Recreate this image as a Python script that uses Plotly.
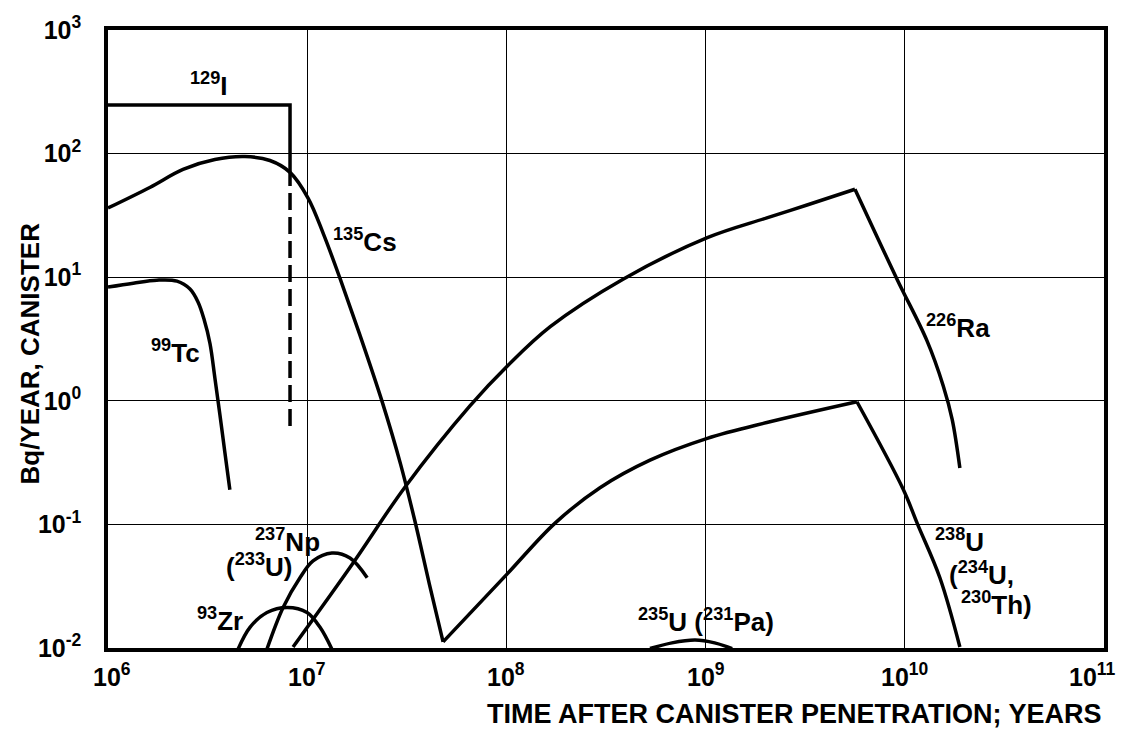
import math
import plotly.graph_objects as go

# ---- release rate curves (time in years, Bq/year per canister) ----
i129_x = [1.0e6, 8.2e6, 8.2e6]
i129_y = [247, 247, 75]
i129_tail_x = [8.2e6, 8.2e6]
i129_tail_y = [75, 0.56]

cs135_x = [1.0e6, 1.63e6, 2.38e6, 3.44e6, 4.87e6, 6.50e6, 8.20e6, 1.01e7, 1.21e7,
           1.46e7, 1.84e7, 2.38e7, 2.94e7, 3.48e7, 4.11e7, 4.81e7]
cs135_y = [36.3, 53.5, 74.5, 89.5, 94.6, 87.9, 70.5, 43.7, 22.1,
           9.82, 3.40, 0.98, 0.309, 0.105, 0.0326, 0.0112]

tc99_x = [1.0e6, 1.34e6, 1.76e6, 2.22e6, 2.58e6, 2.83e6, 3.03e6, 3.25e6, 3.44e6,
          3.65e6, 3.86e6, 4.09e6]
tc99_y = [8.32, 8.95, 9.46, 9.29, 8.02, 6.31, 4.61, 2.91, 1.53, 0.759, 0.384, 0.191]

ra226_up_x = [8.49e6, 1.70e7, 3.10e7, 6.56e7, 1.02e8, 1.66e8, 3.85e8, 1.02e9,
              2.03e9, 3.23e9, 5.62e9]
ra226_up_y = [0.0102, 0.0488, 0.201, 0.91, 1.94, 3.98, 9.64, 20.9, 30.2, 38.4, 51.5]
ra226_down_x = [5.62e9, 9.14e9, 1.29e10, 1.56e10, 1.73e10, 1.89e10]
ra226_down_y = [51.5, 9.64, 3.08, 1.32, 0.705, 0.286]

u238_up_x = [4.81e7, 1.01e8, 1.75e8, 2.95e8, 5.26e8, 1.02e9, 2.03e9, 5.75e9]
u238_up_y = [0.0112, 0.0398, 0.102, 0.198, 0.331, 0.497, 0.667, 0.982]
u238_down_x = [5.75e9, 9.79e9, 1.16e10, 1.50e10, 1.89e10]
u238_down_y = [0.982, 0.194, 0.10, 0.037, 0.0102]

zr93_x = [4.50e6, 5.16e6, 6.28e6, 7.93e6, 9.98e6, 1.16e7, 1.33e7]
zr93_y = [0.0098, 0.0147, 0.0194, 0.0213, 0.0194, 0.0147, 0.0098]

np237_x = [6.28e6, 7.57e6, 9.20e6, 1.07e7, 1.33e7, 1.64e7, 2.00e7]
np237_y = [0.0098, 0.0213, 0.0370, 0.0506, 0.0586, 0.0535, 0.0370]

u235_x = [5.26e8, 6.78e8, 8.86e8, 1.11e9, 1.36e9]
u235_y = [0.0099, 0.0110, 0.0116, 0.0110, 0.0099]

# ---- axis ticks ----
x_ticks = [1e6, 1e7, 1e8, 1e9, 1e10, 1e11]
x_ticktext = ["10<sup>6</sup>", "10<sup>7</sup>", "10<sup>8</sup>",
              "10<sup>9</sup>", "10<sup>10</sup>", "10<sup>11</sup>"]
x_tick_shift = [4, 0, 0, 0, 0, -12]
y_ticks = [1e-2, 1e-1, 1e0, 1e1, 1e2, 1e3]
y_ticktext = ["10<sup>-2</sup>", "10<sup>-1</sup>", "10<sup>0</sup>",
              "10<sup>1</sup>", "10<sup>2</sup>", "10<sup>3</sup>"]

# ---- curve labels: (text, time, rate) ----
labels = [
    ("<sup>129</sup>I", 3.2e6, 363),
    ("<sup>135</sup>Cs", 1.95e7, 19.8),
    ("<sup>99</sup>Tc", 2.17e6, 2.51),
    ("<sup>226</sup>Ra", 1.85e10, 3.98),
    ("<sup>238</sup>U", 1.89e10, 0.0745),
    ("(<sup>234</sup>U,", 2.42e10, 0.0398),
    ("<sup>230</sup>Th)", 2.87e10, 0.0229),
    ("<sup>237</sup>Np", 8.0e6, 0.0745),
    ("(<sup>233</sup>U)", 5.73e6, 0.0461),
    ("<sup>93</sup>Zr", 3.65e6, 0.0171),
    ("<sup>235</sup>U (<sup>231</sup>Pa)", 1.0e9, 0.0168),
]

FONT = "Liberation Sans, Arial, Helvetica, sans-serif"
LINE_W = 3.5

fig = go.Figure()


def add_curve(xs, ys, shape="spline", dash="solid"):
    fig.add_trace(go.Scatter(
        x=xs, y=ys, mode="lines",
        line=dict(color="black", width=LINE_W, shape=shape, dash=dash),
        hoverinfo="skip",
    ))


add_curve(i129_x, i129_y, shape="linear")
add_curve(i129_tail_x, i129_tail_y, shape="linear", dash="17px,7px")
add_curve(cs135_x, cs135_y)
add_curve(tc99_x, tc99_y)
add_curve(ra226_up_x, ra226_up_y)
add_curve(ra226_down_x, ra226_down_y)
add_curve(u238_up_x, u238_up_y)
add_curve(u238_down_x, u238_down_y)
add_curve(zr93_x, zr93_y)
add_curve(np237_x, np237_y)
add_curve(u235_x, u235_y)

for text, tx, ty in labels:
    fig.add_annotation(
        text=text, x=math.log10(tx), y=math.log10(ty), xref="x", yref="y",
        showarrow=False, xanchor="center", yanchor="middle",
        font=dict(family=FONT, size=26, color="black", weight="bold"),
    )

# x tick labels, the outer two pulled in from the frame corners
for tv, tt, sh in zip(x_ticks, x_ticktext, x_tick_shift):
    fig.add_annotation(
        text=tt, x=math.log10(tv), y=-0.043, xref="x", yref="paper",
        xshift=sh, showarrow=False, xanchor="center", yanchor="middle",
        font=dict(family=FONT, size=25, color="black", weight="bold"),
    )

fig.add_annotation(
    text="Bq/YEAR, CANISTER", textangle=-90,
    xref="paper", yref="paper", x=-0.078, y=0.477,
    xanchor="center", yanchor="middle", showarrow=False,
    font=dict(family=FONT, size=26, color="black", weight="bold"),
)
fig.add_annotation(
    text="TIME AFTER CANISTER PENETRATION; YEARS",
    xref="paper", yref="paper", x=1.0, y=-0.106,
    xanchor="right", yanchor="middle", showarrow=False,
    font=dict(family=FONT, size=27, color="black", weight="bold"),
)

axis_common = dict(
    type="log", showgrid=True, gridcolor="black", gridwidth=1.3,
    showline=True, linecolor="black", linewidth=LINE_W, mirror=True,
    zeroline=False, ticks="",
    tickfont=dict(family=FONT, size=25, color="black", weight="bold"),
)

fig.update_xaxes(range=[6, 11], tickvals=x_ticks, showticklabels=False,
                 **axis_common)
fig.update_yaxes(range=[-2, 3], tickvals=y_ticks, ticktext=y_ticktext,
                 ticklabelstandoff=18, **axis_common)

fig.update_layout(
    width=1141, height=729,
    margin=dict(l=108, r=37, t=23, b=81),
    paper_bgcolor="white", plot_bgcolor="white",
    showlegend=False,
)

fig.write_html("out.html")
